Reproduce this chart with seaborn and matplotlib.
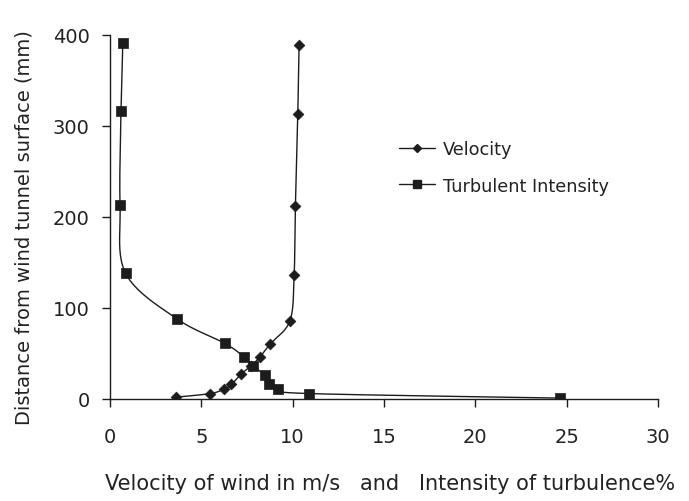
import numpy as np
import pandas as pd
import matplotlib
matplotlib.use("Agg")
import matplotlib.pyplot as plt
from matplotlib.lines import Line2D
import seaborn as sns

# Heights above the tunnel floor (mm)
vel_height = [2, 6, 11, 16, 27, 36, 46, 60, 86, 136, 212, 313, 389]
# Mean wind velocity (m/s)
velocity = [3.6, 5.5, 6.25, 6.65, 7.15, 7.7, 8.2, 8.75, 9.85, 10.08, 10.15, 10.28, 10.35]

turb_height = [391, 316, 213, 138, 88, 61, 46, 36, 26, 17, 11, 6, 1]
# Turbulence intensity (%)
turbulence = [0.7, 0.6, 0.55, 0.86, 3.67, 6.3, 7.34, 7.85, 8.49, 8.72, 9.22, 10.87, 24.64]

x_ticks = [0, 5, 10, 15, 20, 25, 30]
y_ticks = [0, 100, 200, 300, 400]

sns.set_theme(style="white")
plt.rcParams["font.family"] = ["DejaVu Sans"]
INK = "#1c1c1c"
TXT = "#222222"

fig = plt.figure(figsize=(6.89, 5.02), dpi=100)
ax = fig.add_axes([110 / 689, (502 - 400) / 502, 548 / 689, 364 / 502])
ax.set_xlim(0, 30)
ax.set_ylim(0, 400)


def smooth_curve(x, y, sx, sy, n=24):
    """Catmull-Rom style smoothing in display-proportional space."""
    p = np.column_stack([np.asarray(x, float) * sx, np.asarray(y, float) * sy])
    ext = np.vstack([p[0], p, p[-1]])
    t = np.linspace(0, 1, n)[:, None]
    out = []
    for i in range(len(p) - 1):
        p0, p1, p2, p3 = ext[i], ext[i + 1], ext[i + 2], ext[i + 3]
        c1 = p1 + (p2 - p0) / 6.0
        c2 = p2 - (p3 - p1) / 6.0
        seg = ((1 - t) ** 3) * p1 + 3 * ((1 - t) ** 2) * t * c1 + 3 * (1 - t) * t ** 2 * c2 + t ** 3 * p2
        out.append(seg if i == 0 else seg[1:])
    out = np.vstack(out)
    return out[:, 0] / sx, out[:, 1] / sy


sx, sy = 548 / 30, 364 / 400
vx, vy = smooth_curve(velocity, vel_height, sx, sy)
tx, ty = smooth_curve(turbulence, turb_height, sx, sy)

sns.lineplot(x=vx, y=vy, sort=False, estimator=None, color=INK, lw=1.0, ax=ax)
sns.lineplot(x=tx, y=ty, sort=False, estimator=None, color=INK, lw=1.0, ax=ax)

df_v = pd.DataFrame({"x": velocity, "y": vel_height})
df_t = pd.DataFrame({"x": turbulence, "y": turb_height})
sns.scatterplot(data=df_v, x="x", y="y", marker="D", s=30, color=INK, edgecolor=INK, linewidth=0.5, ax=ax, zorder=3)
sns.scatterplot(data=df_t, x="x", y="y", marker="s", s=48, color=INK, edgecolor=INK, linewidth=0.5, ax=ax, zorder=4)

# Axes styling: only left and bottom spines, outward ticks
for side in ["top", "right"]:
    ax.spines[side].set_visible(False)
for side in ["left", "bottom"]:
    ax.spines[side].set_color(INK)
    ax.spines[side].set_linewidth(1.0)
ax.set_xticks(x_ticks)
ax.set_yticks(y_ticks)
ax.tick_params(axis="x", direction="out", length=6, width=1, color=INK, pad=14, labelsize=14, labelcolor=TXT)
ax.tick_params(axis="y", direction="out", length=6, width=1, color=INK, pad=8.5, labelsize=14, labelcolor=TXT)
ax.tick_params(bottom=True, left=True)
ax.grid(False)

ax.set_xlabel("Velocity of wind in m/s   and   Intensity of turbulence%", fontsize=15, color=TXT)
ax.set_ylabel("Distance from wind tunnel surface (mm)", fontsize=14, color=TXT)
ax.xaxis.set_label_coords((390 - 110) / 548, -(484 - 400) / 364)
ax.xaxis.label.set_va("center")
ax.yaxis.set_label_coords(-(110 - 24) / 548, (400 - 228) / 364)
ax.yaxis.label.set_va("center")

handles = [
    Line2D([], [], color=INK, lw=1.0, marker="D", markersize=4.5, markerfacecolor=INK, label="Velocity"),
    Line2D([], [], color=INK, lw=1.0, marker="s", markersize=5.5, markerfacecolor=INK, label="Turbulent Intensity"),
]
leg = ax.legend(handles=handles, frameon=False, loc="upper left",
                bbox_to_anchor=(383 / 689, 1 - 125 / 502), bbox_transform=fig.transFigure,
                fontsize=12.8, handlelength=2.0, handletextpad=0.45, labelspacing=1.05)
for t in leg.get_texts():
    t.set_color(TXT)

fig.savefig("out.png", dpi=100, facecolor="white")
